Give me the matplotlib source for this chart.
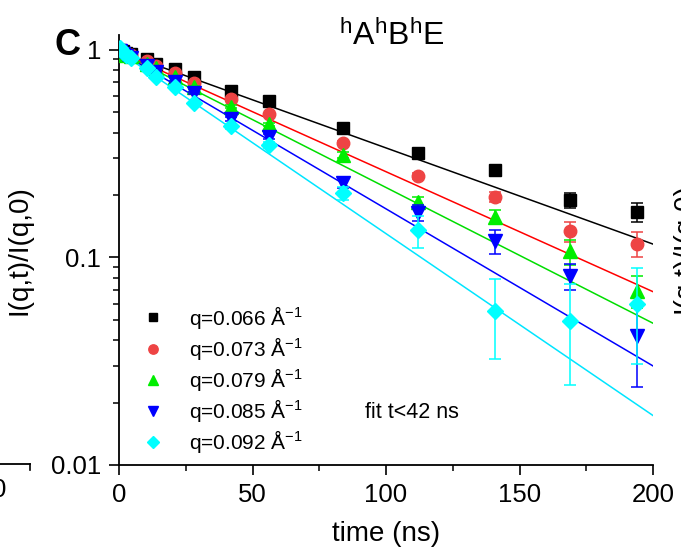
#!/usr/bin/env python3
# NSE intermediate scattering function, panel C (hAhBhE), log-y decay vs time

import numpy as np
import matplotlib
matplotlib.use('Agg')
import matplotlib.pyplot as plt
from matplotlib.lines import Line2D

plt.rcParams['font.family'] = ['Liberation Sans', 'DejaVu Sans']
plt.rcParams['mathtext.fontset'] = 'custom'
plt.rcParams['mathtext.rm'] = 'Liberation Sans'
plt.rcParams['mathtext.it'] = 'Liberation Sans:italic'

######################################################################
# Data
######################################################################

times = [0.4, 1.5, 2.8, 4.6, 10.4, 14, 21, 28, 42, 56, 84, 112, 141, 169, 194]

q_labels = ['0.066', '0.073', '0.079', '0.085', '0.092']

I_066 = [1.00, 0.99, 0.97, 0.96, 0.90, 0.86, 0.81, 0.74, 0.635, 0.568, 0.421, 0.319, 0.263, 0.189, 0.165]
I_073 = [1.00, 0.98, 0.96, 0.94, 0.88, 0.84, 0.77, 0.69, 0.579, 0.490, 0.358, 0.247, 0.196, 0.134, 0.116]
I_079 = [1.00, 0.97, 0.95, 0.93, 0.86, 0.82, 0.74, 0.66, 0.533, 0.438, 0.312, 0.186, 0.157, 0.107, 0.069]
I_085 = [0.99, 0.96, 0.93, 0.91, 0.84, 0.78, 0.70, 0.62, 0.464, 0.382, 0.229, 0.164, 0.120, 0.0814, 0.0418]
I_092 = [1.02, 0.98, 0.95, 0.91, 0.816, 0.744, 0.666, 0.553, 0.430, 0.348, 0.204, 0.135, 0.0554, 0.0494, 0.0597]

err_066 = [0.01, 0.01, 0.01, 0.01, 0.01, 0.01, 0.01, 0.01, 0.008, 0.008, 0.008, 0.008, 0.008, 0.015, 0.017]
err_073 = [0.01, 0.01, 0.01, 0.01, 0.01, 0.01, 0.01, 0.01, 0.008, 0.008, 0.008, 0.009, 0.010, 0.015, 0.016]
err_079 = [0.01, 0.01, 0.01, 0.01, 0.01, 0.01, 0.01, 0.01, 0.008, 0.008, 0.010, 0.010, 0.012, 0.015, 0.012]
err_085 = [0.01, 0.01, 0.01, 0.01, 0.01, 0.01, 0.01, 0.01, 0.010, 0.010, 0.012, 0.014, 0.016, 0.012, 0.018]
err_092 = [0.01, 0.01, 0.01, 0.01, 0.01, 0.01, 0.01, 0.01, 0.012, 0.012, 0.015, 0.024, 0.023, 0.025, 0.029]

# single exponential fits (t < 42 ns): amplitude and decay rate (1/ns)
fit_amp = [0.98, 0.98, 0.98, 0.98, 0.98]
fit_rate = [0.01067, 0.01331, 0.01506, 0.01743, 0.02018]

######################################################################
# Graphing
######################################################################

intensities = [I_066, I_073, I_079, I_085, I_092]
errors = [err_066, err_073, err_079, err_085, err_092]
markers = ['s', 'o', '^', 'v', 'D']
msizes = [8, 9, 10, 10, 8]
mcolors = ['#000000', '#ee4444', '#00ee00', '#0000ff', '#00ffff']
lcolors = ['#000000', '#ff0000', '#00dd00', '#0000ff', '#00e5ff']

fig = plt.figure(figsize=(6.81, 5.53), dpi=100)
ax = fig.add_axes([119/681, 1 - 465/553, (653 - 119)/681, (465 - 35)/553])

t_fit = np.linspace(0, 200, 200)
for i in range(len(intensities)):
    ax.plot(t_fit, fit_amp[i] * np.exp(-fit_rate[i] * t_fit),
            color=lcolors[i], lw=1.1, zorder=2)

for i in range(len(intensities)):
    ax.errorbar(times, intensities[i], yerr=errors[i], fmt=markers[i],
                ms=msizes[i], color=mcolors[i], mec=mcolors[i],
                ecolor=mcolors[i], elinewidth=1.1, capsize=4, capthick=1.1,
                zorder=3 + i)

ax.set_yscale('log')
ax.set_xlim(0, 200)
ax.set_ylim(0.01, 1.18)
ax.set_xticks([0, 50, 100, 150, 200])
ax.xaxis.set_minor_locator(matplotlib.ticker.MultipleLocator(25))
ax.yaxis.set_major_formatter(matplotlib.ticker.FuncFormatter(
    lambda v, p: {0.01: '0.01', 0.1: '0.1', 1: '1'}.get(round(v, 3), '')))
ax.yaxis.set_minor_formatter(matplotlib.ticker.NullFormatter())

for s in ['top', 'right']:
    ax.spines[s].set_visible(False)
for s in ['left', 'bottom']:
    ax.spines[s].set_linewidth(1.3)
ax.tick_params(which='major', direction='out', length=7, width=1.2,
               labelsize=18.5, pad=6)
ax.tick_params(which='minor', direction='out', length=4, width=1.1)

ax.set_xlabel('time (ns)', fontsize=20, labelpad=10)
ax.set_ylabel('I(q,t)/I(q,0)', fontsize=20, labelpad=13)

handles = [Line2D([], [], ls='none', marker=markers[i], ms=msizes[i] * 0.75,
                  color=mcolors[i]) for i in range(len(intensities))]
labels = [r'q=%s Å$^{\mathregular{-1}}$' % q for q in q_labels]
ax.legend(handles, labels, loc='upper left', bbox_to_anchor=(0.045, 0.375),
          frameon=False, fontsize=15, handlelength=1.0, handletextpad=1.2,
          labelspacing=0.2, borderpad=0, borderaxespad=0)

ax.text(0.4607, 0.123, 'fit t<42 ns', transform=ax.transAxes,
        fontsize=15.5, va='center', ha='left')

fig.text(392/681, 1 - 45/553, r'$\mathregular{^hA^hB^hE}$', fontsize=23,
         ha='center', va='baseline')
fig.text(55/681, 1 - 55/553, 'C', fontsize=26, fontweight='bold',
         ha='left', va='baseline')

# bits of the neighbouring panels
fig.add_artist(Line2D([0, 30/681], [1 - 464/553, 1 - 464/553],
                      color='black', lw=1.3))
fig.add_artist(Line2D([30/681, 30/681], [1 - 464/553, 1 - 470/553],
                      color='black', lw=1.2))
fig.text(-8/681, 1 - 490/553, '0', fontsize=18.5, ha='left', va='center')
fig.text(672/681, 1 - 248/553, 'I(q,t)/I(q,0)', fontsize=20, rotation=90,
         ha='left', va='center')

fig.savefig('out.png', dpi=100)
